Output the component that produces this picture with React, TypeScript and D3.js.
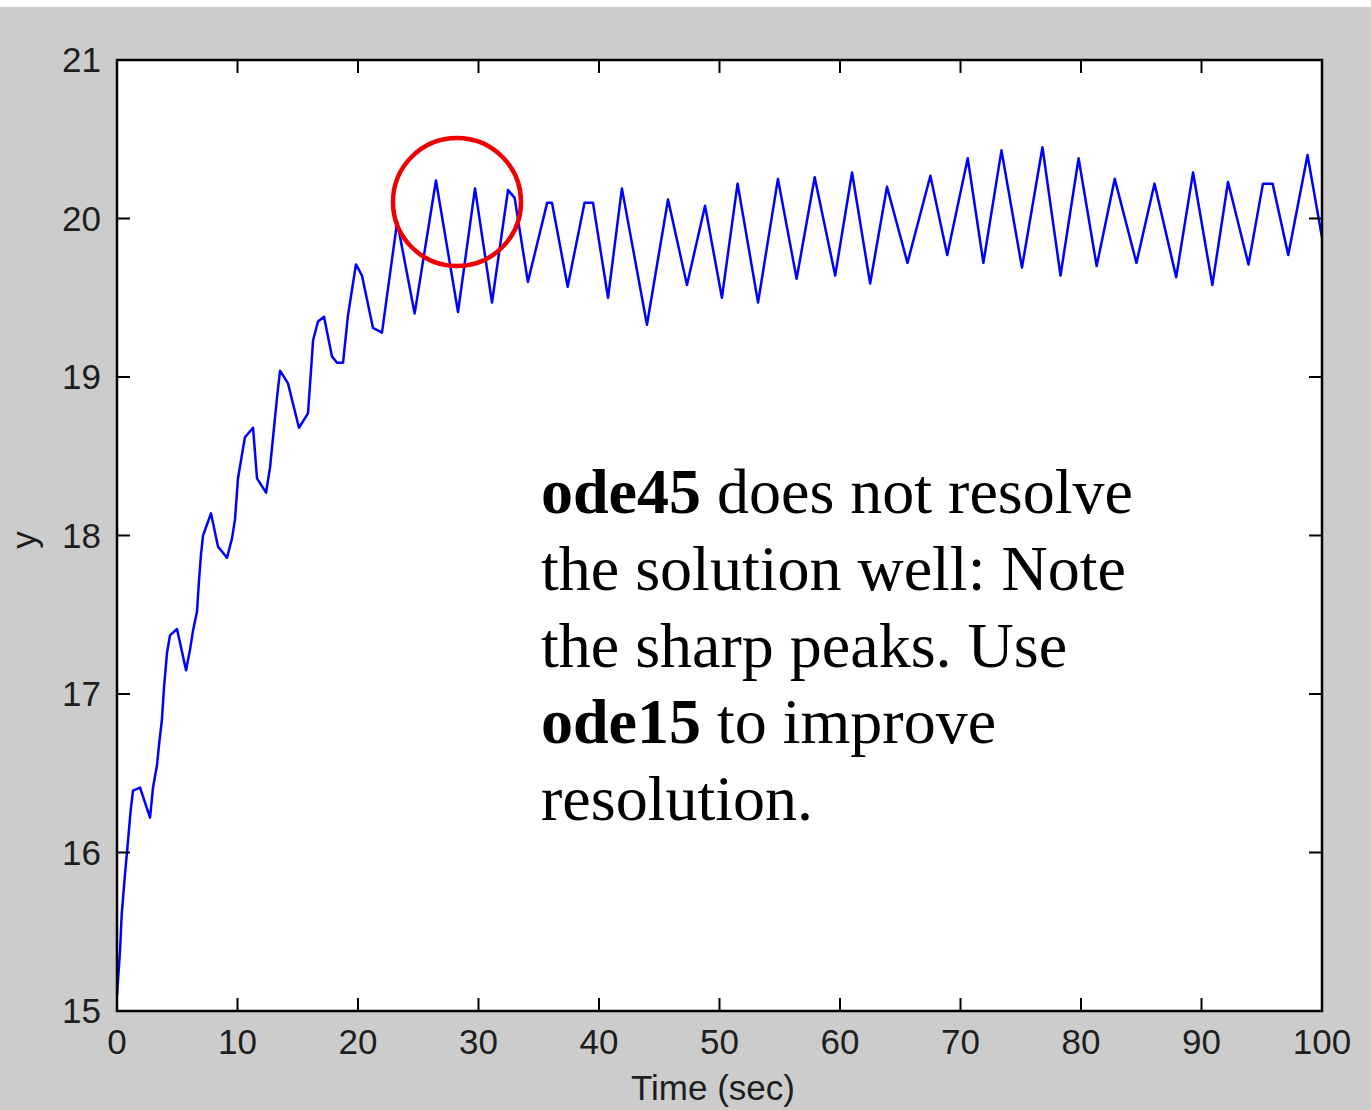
import React from "react";
import * as d3 from "d3";

const timeSec = [
  0, 0.25, 0.39, 0.66, 0.91, 1.14, 1.33, 1.91, 2.74, 2.99, 3.32, 3.49, 3.73, 3.9, 4.15, 4.4, 4.98, 5.73,
  6.06, 6.31, 6.64, 6.8, 6.97, 7.14, 7.8, 8.38, 9.13, 9.54, 9.79, 10.04, 10.37, 10.62, 11.29, 11.62,
  12.37, 12.7, 13.03, 13.28, 13.53, 14.19, 15.1, 15.85, 16.1, 16.27, 16.68, 17.18, 17.84, 18.26, 18.76,
  19.17, 19.83, 20.33, 21.24, 21.99, 23.25, 24.7, 26.47, 28.3, 29.71, 31.12, 32.45, 33.0, 34.1, 35.7,
  36.1, 37.4, 38.8, 39.5, 40.75, 41.9, 43.98, 45.73, 47.3, 48.8, 50.2, 51.5, 53.2, 54.85, 56.4, 57.9,
  59.6, 61.0, 62.5, 63.9, 65.6, 67.5, 68.9, 70.6, 71.9, 73.4, 75.1, 76.8, 78.3, 79.8, 81.3, 82.8, 84.6,
  86.1, 87.9, 89.3, 90.9, 92.2, 93.9, 95.1, 95.9, 97.2, 98.8, 100,
];
const yValue = [
  15.1, 15.38, 15.61, 15.86, 16.07, 16.27, 16.39, 16.41, 16.22, 16.41, 16.55, 16.68, 16.84, 17.04, 17.26,
  17.37, 17.41, 17.15, 17.28, 17.4, 17.52, 17.71, 17.88, 18.0, 18.14, 17.93, 17.86, 17.98, 18.1, 18.36,
  18.51, 18.62, 18.68, 18.36, 18.27, 18.43, 18.68, 18.87, 19.04, 18.96, 18.68, 18.77, 19.04, 19.23, 19.35,
  19.38, 19.13, 19.09, 19.09, 19.39, 19.71, 19.64, 19.31, 19.28, 19.98, 19.4, 20.24, 19.41, 20.19, 19.47,
  20.18, 20.13, 19.6, 20.1, 20.1, 19.57, 20.1, 20.1, 19.5, 20.19, 19.33, 20.12, 19.58, 20.08, 19.5, 20.22,
  19.47, 20.25, 19.62, 20.26, 19.64, 20.29, 19.59, 20.2, 19.72, 20.27, 19.77, 20.38, 19.72, 20.43, 19.69,
  20.45, 19.64, 20.38, 19.7, 20.25, 19.72, 20.22, 19.63, 20.29, 19.58, 20.23, 19.71, 20.22, 20.22, 19.77,
  20.4, 19.88,
];

const xTicks = [0, 10, 20, 30, 40, 50, 60, 70, 80, 90, 100];
const yTicks = [15, 16, 17, 18, 19, 20, 21];

const annotationLines: { bold: string; rest: string }[] = [
  { bold: "ode45", rest: " does not resolve" },
  { bold: "", rest: "the solution well: Note" },
  { bold: "", rest: "the sharp peaks. Use" },
  { bold: "ode15", rest: " to improve" },
  { bold: "", rest: "resolution." },
];

const xLabel = "Time (sec)";
const yLabel = "y";

export default function App() {
  const W = 1371;
  const H = 1110;
  const left = 117;
  const right = 1322;
  const top = 60;
  const bottom = 1011;
  const x = d3.scaleLinear().domain([0, 100]).range([left, right]);
  const y = d3.scaleLinear().domain([15, 21]).range([bottom, top]);
  const line = d3
    .line<number>()
    .x((_, i) => x(timeSec[i]))
    .y((d) => y(d));
  const tickLen = 13;
  const labelFont = "'Liberation Sans', Arial, sans-serif";
  const textColor = "#1e1e1e";

  return (
    <svg
      width={W}
      height={H}
      style={{ position: "absolute", left: 0, top: 0, display: "block" }}
    >
      <rect x={0} y={0} width={W} height={H} fill="#ffffff" />
      <rect x={0} y={7} width={W} height={H - 7} fill="#cccccc" />
      <rect x={left} y={top} width={right - left} height={bottom - top} fill="#ffffff" />
      <defs>
        <clipPath id="plotclip">
          <rect x={left} y={top - 2} width={right - left + 1} height={bottom - top + 4} />
        </clipPath>
      </defs>
      <path
        d={line(yValue) || ""}
        fill="none"
        stroke="#0000ff"
        strokeWidth={2.5}
        strokeLinejoin="round"
        clipPath="url(#plotclip)"
      />
      {xTicks.map((t) => (
        <g key={"xt" + t}>
          <line x1={x(t)} x2={x(t)} y1={bottom} y2={bottom - tickLen} stroke="#000" strokeWidth={2} />
          <line x1={x(t)} x2={x(t)} y1={top} y2={top + tickLen} stroke="#000" strokeWidth={2} />
          <text
            x={x(t)}
            y={bottom + 43}
            textAnchor="middle"
            fontFamily={labelFont}
            fontSize={35}
            fill={textColor}
          >
            {t}
          </text>
        </g>
      ))}
      {yTicks.map((t) => (
        <g key={"yt" + t}>
          <line x1={left} x2={left + tickLen} y1={y(t)} y2={y(t)} stroke="#000" strokeWidth={2} />
          <line x1={right} x2={right - tickLen} y1={y(t)} y2={y(t)} stroke="#000" strokeWidth={2} />
          <text
            x={101}
            y={y(t) + 12}
            textAnchor="end"
            fontFamily={labelFont}
            fontSize={35}
            fill={textColor}
          >
            {t}
          </text>
        </g>
      ))}
      <rect
        x={left}
        y={top}
        width={right - left}
        height={bottom - top}
        fill="none"
        stroke="#000"
        strokeWidth={2.5}
      />
      <text
        x={713}
        y={1100}
        textAnchor="middle"
        fontFamily={labelFont}
        fontSize={35}
        fill={textColor}
      >
        {xLabel}
      </text>
      <text
        transform="translate(36,540) rotate(-90)"
        textAnchor="middle"
        fontFamily={labelFont}
        fontSize={35}
        fill={textColor}
      >
        {yLabel}
      </text>
      <circle cx={457} cy={202} r={64} fill="none" stroke="#ee0000" strokeWidth={4.5} />
      {annotationLines.map((ln, i) => (
        <text
          key={"ann" + i}
          x={541}
          y={513 + i * 76.8}
          fontFamily="'Liberation Serif', 'Times New Roman', serif"
          fontSize={64}
          fill="#000"
          xmlSpace="preserve"
          style={{ whiteSpace: "pre" }}
        >
          {ln.bold ? <tspan fontWeight="bold">{ln.bold}</tspan> : null}
          <tspan>{ln.rest}</tspan>
        </text>
      ))}
    </svg>
  );
}
